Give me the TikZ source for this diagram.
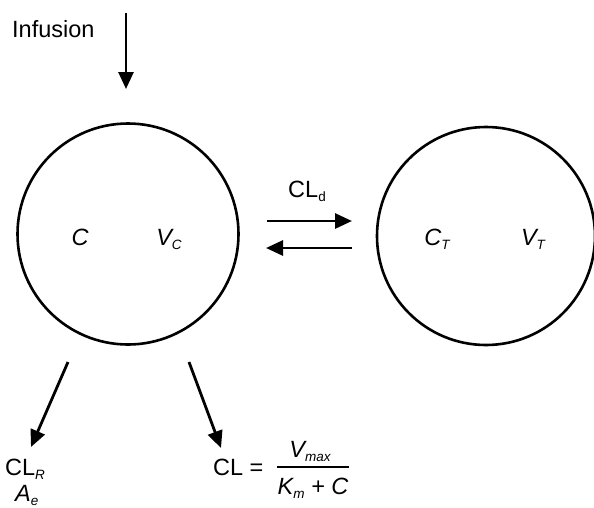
\documentclass[tikz,border=0pt]{standalone}
\usepackage{fontspec}
\setmainfont{Liberation Sans}
\usetikzlibrary{arrows.meta}
\newcommand\lbsub[1]{\raisebox{-0.35ex}{\fontsize{13.5}{14}\selectfont #1}}
\begin{document}
\begin{tikzpicture}[x=1pt,y=-1pt,
  font=\fontsize{23.5}{27}\selectfont,
  comp/.style={draw,circle,line width=2.6pt,inner sep=0pt},
  lbl/.style={inner sep=0pt},
  ital/.style={inner sep=0pt,font=\fontsize{23.5}{27}\selectfont\itshape},
  flow/.style={line width=2.8pt,-{Triangle[width=15pt,length=17pt]}}]
\useasboundingbox (0,0) rectangle (594,507);
\clip (0,0) rectangle (594,507);
% compartments
\node[comp,minimum size=221pt] (lc) at (128,234) {};
\node[comp,minimum size=218pt] (rc) at (486,236) {};
% labels inside
\node[ital,anchor=base] (c) at (80,245) {C};
\node[ital,anchor=base] (vc) at (169,245) {V\lbsub{C}};
\node[ital,anchor=base] (ct) at (437,245) {C\lbsub{T}};
\node[ital,anchor=base] (vt) at (533,245) {V\lbsub{T}};
% infusion
\node[lbl,anchor=base west] (inf) at (12,37) {Infusion};
\coordinate (infs) at (126,13);
\coordinate (infe) at (126,89);
\draw[flow] (infs) -- (infe);
% distribution
\node[lbl,anchor=base] (cld) at (307,197) {CL\lbsub{d}};
\coordinate (d1s) at (267,221);
\coordinate (d1e) at (352,221);
\coordinate (d2s) at (352,248);
\coordinate (d2e) at (266,248);
\draw[flow] (d1s) -- (d1e);
\draw[flow] (d2s) -- (d2e);
% elimination
\coordinate (e1s) at (68,362);
\coordinate (e1e) at (31,447);
\coordinate (e2s) at (189,362);
\coordinate (e2e) at (221,448);
\draw[flow] (e1s) -- (e1e);
\draw[flow] (e2s) -- (e2e);
\node[lbl,anchor=base west] (clr) at (5,475) {CL\lbsub{\itshape R}};
\node[lbl,anchor=base west,font=\fontsize{23.5}{27}\selectfont\itshape] (ae) at (15,501) {A\lbsub{e}};
\node[lbl,anchor=base west] (cl) at (213,475) {CL =};
\coordinate (fl) at (277,467);
\coordinate (fr) at (349,467);
\draw[line width=1.3pt] (fl) -- (fr);
\node[ital,anchor=base] (num) at (310,457) {V\lbsub{max}};
\node[ital,anchor=base] (den) at (313,494) {K\lbsub{m} + C};
\end{tikzpicture}
\end{document}
